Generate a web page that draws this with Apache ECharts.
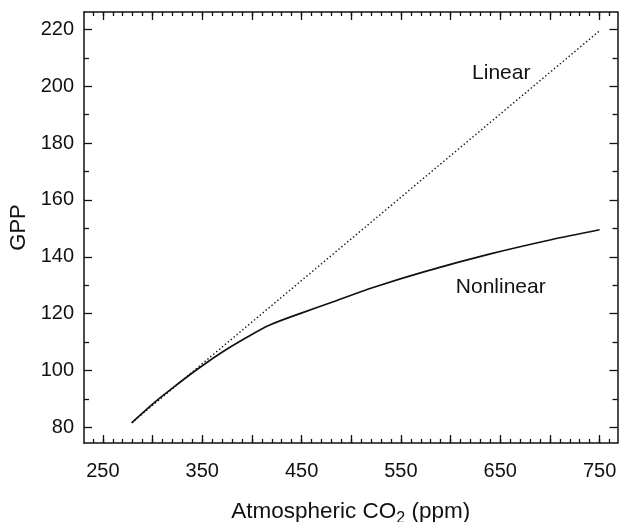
<!DOCTYPE html>
<html>
<head>
<meta charset="utf-8">
<script src="https://cdn.jsdelivr.net/npm/echarts@6/dist/echarts.min.js"></script>
<style>
  html, body { margin: 0; padding: 0; background: #fff; }
  #chart { width: 619px; height: 522px; }
</style>
</head>
<body>
<div id="chart"></div>
<script>
// GPP response to atmospheric CO2: linear vs nonlinear model
const co2Nonlinear = [279, 300, 320, 343, 368, 395, 418, 449, 482, 522, 573, 640, 700, 750];
const gppNonlinear = [81.6, 88.2, 93.8, 99.9, 106.0, 111.7, 116.0, 120.1, 124.2, 129.2, 134.7, 141.0, 145.9, 149.5];

const co2Linear = [279, 750];
const gppLinear = [81.6, 219.5];

// axis ticks and labels
const xLabelValues = [250, 350, 450, 550, 650, 750];
const xMajorTicks = [250, 300, 350, 400, 450, 500, 550, 600, 650, 700, 750];
const xMinorTicks = [240, 250, 260, 270, 280, 290, 300, 310, 320, 330, 340, 350, 360, 370, 380, 390, 400,
  410, 420, 430, 440, 450, 460, 470, 480, 490, 500, 510, 520, 530, 540, 550, 560, 570, 580, 590, 600,
  610, 620, 630, 640, 650, 660, 670, 680, 690, 700, 710, 720, 730, 740, 750, 760];
const yLabelValues = [80, 100, 120, 140, 160, 180, 200, 220];
const yMinorTicks = [90, 110, 130, 150, 170, 190, 210];

// curve annotations
const curveNames = ['Linear', 'Nonlinear'];
const curveNameAnchors = [[651, 204.5], [650.5, 129.4]];

const xMin = 231, xMax = 768;
const yMin = 74.5, yMax = 226.1;
const FONT = '"Liberation Sans", Arial, Helvetica, sans-serif';
const INK = '#111';

function zip(xs, ys) { return xs.map((x, i) => [x, ys[i]]); }

function xAxisDef(position, ticks, len, withLine, withLabels) {
  return {
    type: 'value', min: xMin, max: xMax, position: position,
    axisLine: { show: withLine, onZero: false, lineStyle: { color: INK, width: 1.5 } },
    axisTick: { show: true, inside: true, length: len, customValues: ticks, lineStyle: { color: INK, width: 1.3 } },
    axisLabel: withLabels ? {
      show: true, customValues: xLabelValues, margin: 18,
      fontFamily: FONT, fontSize: 20, color: INK
    } : { show: false },
    splitLine: { show: false }
  };
}
function yAxisDef(position, ticks, len, withLine, withLabels) {
  return {
    type: 'value', min: yMin, max: yMax, position: position,
    axisLine: { show: withLine, onZero: false, lineStyle: { color: INK, width: 1.5 } },
    axisTick: { show: true, inside: true, length: len, customValues: ticks, lineStyle: { color: INK, width: 1.3 } },
    axisLabel: withLabels ? {
      show: true, customValues: yLabelValues, margin: 10,
      fontFamily: FONT, fontSize: 20, color: INK
    } : { show: false },
    splitLine: { show: false }
  };
}

const xAxes = [
  xAxisDef('bottom', xMajorTicks, 8, true, true),
  xAxisDef('bottom', xMinorTicks, 4, false, false),
  xAxisDef('top', xMajorTicks, 8, true, false),
  xAxisDef('top', xMinorTicks, 4, false, false)
];
Object.assign(xAxes[0], {
  name: 'Atmospheric CO{sub|2} (ppm)',
  nameLocation: 'middle', nameGap: 54,
  nameTextStyle: {
    fontFamily: FONT, fontSize: 22.5, color: INK,
    rich: { sub: { fontFamily: FONT, fontSize: 16, color: INK, verticalAlign: 'top', padding: [14, 0, 0, 0] } }
  }
});

const yAxes = [
  yAxisDef('left', yLabelValues, 8, true, true),
  yAxisDef('left', yMinorTicks, 5, false, false),
  yAxisDef('right', yLabelValues, 8, true, false),
  yAxisDef('right', yMinorTicks, 5, false, false)
];
Object.assign(yAxes[0], {
  name: 'GPP', nameLocation: 'middle', nameGap: 53,
  nameTextStyle: { fontFamily: FONT, fontSize: 22, color: INK }
});

const chart = echarts.init(document.getElementById('chart'), null, { renderer: 'canvas' });
chart.setOption({
  animation: false,
  backgroundColor: '#fff',
  grid: { left: 84, right: 1.5, top: 12, bottom: 79, containLabel: false, outerBoundsMode: 'none' },
  xAxis: xAxes,
  yAxis: yAxes,
  series: [
    {
      name: curveNames[0], type: 'line', xAxisIndex: 0, yAxisIndex: 0,
      data: zip(co2Linear, gppLinear), showSymbol: false, symbol: 'none',
      lineStyle: { color: INK, width: 1.4, type: [1.4, 2.4] },
      markPoint: {
        symbol: 'circle', symbolSize: 0,
        label: { show: true, position: 'inside', formatter: curveNames[0], fontFamily: FONT, fontSize: 21, color: INK },
        data: [{ coord: curveNameAnchors[0] }]
      }
    },
    {
      name: curveNames[1], type: 'line', xAxisIndex: 0, yAxisIndex: 0,
      data: zip(co2Nonlinear, gppNonlinear), showSymbol: false, symbol: 'none', smooth: 0.3,
      lineStyle: { color: INK, width: 1.7 },
      markPoint: {
        symbol: 'circle', symbolSize: 0,
        label: { show: true, position: 'inside', formatter: curveNames[1], fontFamily: FONT, fontSize: 21, color: INK },
        data: [{ coord: curveNameAnchors[1] }]
      }
    }
  ]
});
</script>
</body>
</html>
